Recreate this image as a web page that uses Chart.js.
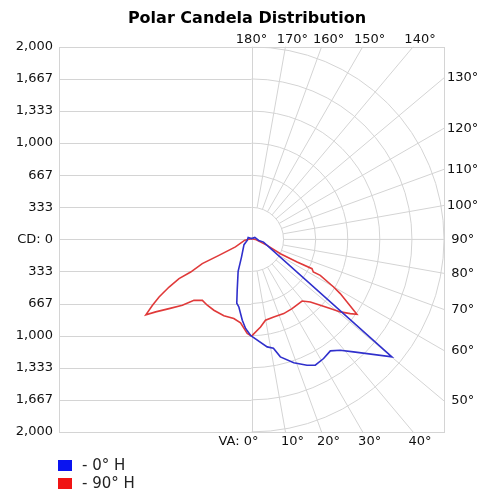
<!DOCTYPE html>
<html>
<head>
<meta charset="utf-8">
<script src="https://cdn.jsdelivr.net/npm/chart.js@4/dist/chart.umd.min.js"></script>
<style>
  body { margin: 0; background: #fff; }
  #wrap { position: relative; width: 480px; height: 494px; }
  #legend { position: absolute; left: 58px; top: 456px; font: 15px "DejaVu Sans", sans-serif; color: #222; }
  .item { height: 18px; line-height: 18px; white-space: nowrap; }
  .sw { display: inline-block; width: 14px; height: 11px; margin-right: 10px; vertical-align: -1px; }
</style>
</head>
<body>
<div id="wrap">
  <canvas id="polar" width="480" height="494"></canvas>
  <div id="legend"></div>
</div>
<script>
// candela ticks (left axis), shown as magnitudes
const cdTicks = [-2000, -1667, -1333, -1000, -667, -333, 0, 333, 667, 1000, 1333, 1667, 2000];
const cdTickLabels = ['2,000', '1,667', '1,333', '1,000', '667', '333', 'CD: 0', '333', '667', '1,000', '1,333', '1,667', '2,000'];
const rings = [333, 667, 1000, 1333, 1667, 2000];

// vertical angle labels around the frame
const rightAngles = [50, 60, 70, 80, 90, 100, 110, 120, 130];
const topAngles = [180, 170, 160, 150, 140];
const bottomAngles = [0, 10, 20, 30, 40];

// 0° H plane (right half) and 180° H (left half)
const blueVA = [0, 8.3, 11.4, 13.8, 18.9, 23.8, 26.9, 31.2, 35.3, 38.7, 42.2, 50.1, 77.3, 82, 120, 180];
const blueCD = [1005, 1128, 1152, 1256, 1355, 1428, 1464, 1446, 1418, 1474, 1577, 1901, 128, 76, 40, 8];
const blueBackVA = [180, 120, 77, 55, 29.5, 22.7, 15.7, 13, 10.6, 6.5, 3.8, 0.6, 0];
const blueBackCD = [8, 40, 46, 95, 211, 360, 549, 680, 714, 845, 927, 995, 1005];

// 90° H plane (right half) and 270° H (left half)
const redVA = [0, 5.9, 9.8, 16, 23.5, 30.4, 39.4, 43.3, 46.3, 48.7, 50.8, 53.1, 54.6, 58.6, 59.9, 62.4, 62.2, 64.2, 63.6, 63.7, 69, 90, 180];
const redCD = [1005, 914, 852, 838, 840, 833, 828, 892, 989, 1089, 1191, 1283, 1343, 1080, 986, 806, 726, 698, 529, 335, 174, 40, 8];
const redBackVA = [180, 83, 65, 63.9, 63.8, 61.8, 61.6, 60, 58.1, 56.4, 54.5, 52.9, 50, 46.4, 43.4, 38.9, 33.9, 28, 19.9, 12.6, 7.5, 2.6, 0];
const redBackCD = [8, 70, 184, 377, 570, 717, 856, 989, 1131, 1235, 1348, 1248, 1118, 992, 870, 813, 824, 833, 843, 842, 873, 978, 1005];

const rad = d => d * Math.PI / 180;
// VA 0 points down, right half positive x, left half negative x
function polarPoints(vaR, cdR, vaL, cdL) {
    const pts = [];
    vaR.forEach((a, i) => pts.push({ x: cdR[i] * Math.sin(rad(a)), y: -cdR[i] * Math.cos(rad(a)) }));
    vaL.forEach((a, i) => pts.push({ x: -cdL[i] * Math.sin(rad(a)), y: -cdL[i] * Math.cos(rad(a)) }));
    return pts;
}

const gridColor = '#d4d4d4';
const labelFont = '13px "DejaVu Sans", sans-serif';

const polarGrid = {
    id: 'polarGrid',
    beforeDatasetsDraw(chart) {
        const { ctx, chartArea: a, scales: { x, y } } = chart;
        const cx = x.getPixelForValue(0), cy = y.getPixelForValue(0);
        ctx.save();
        ctx.strokeStyle = gridColor;
        ctx.lineWidth = 1;
        ctx.beginPath();
        cdTicks.forEach(v => {
            const py = Math.round(y.getPixelForValue(v)) + 0.5;
            ctx.moveTo(a.left, py);
            ctx.lineTo(cx, py);
        });
        ctx.moveTo(Math.round(cx) + 0.5, a.top);
        ctx.lineTo(Math.round(cx) + 0.5, a.bottom);
        ctx.stroke();
        ctx.strokeRect(Math.round(a.left) + 0.5, Math.round(a.top) + 0.5, Math.round(a.width), Math.round(a.height));

        ctx.beginPath();
        ctx.rect(a.left, a.top, a.width, a.height);
        ctx.clip();
        rings.forEach(v => {
            const r = x.getPixelForValue(v) - cx;
            ctx.beginPath();
            ctx.arc(cx, cy, r, -Math.PI / 2, Math.PI / 2);
            ctx.stroke();
        });
        const r0 = x.getPixelForValue(rings[0]) - cx;
        const r1 = x.getPixelForValue(4000) - cx;
        ctx.beginPath();
        for (let va = 10; va < 180; va += 10) {
            const s = Math.sin(rad(va)), c = Math.cos(rad(va));
            ctx.moveTo(cx + r0 * s, cy + r0 * c);
            ctx.lineTo(cx + r1 * s, cy + r1 * c);
        }
        ctx.stroke();
        ctx.restore();
    },
    afterDraw(chart) {
        const { ctx, chartArea: a, scales: { x } } = chart;
        ctx.save();
        ctx.font = labelFont;
        ctx.fillStyle = '#111';
        ctx.textBaseline = 'middle';
        topAngles.forEach(va => {
            const px = x.getPixelForValue(2000 * Math.tan(rad(180 - va)));
            ctx.textAlign = 'center';
            ctx.fillText(va + '°', va === 180 ? px : px + 7, a.top - 7);
        });
        bottomAngles.forEach(va => {
            const px = x.getPixelForValue(2000 * Math.tan(rad(va)));
            if (va === 0) {
                ctx.textAlign = 'right';
                ctx.fillText('VA: 0°', px + 7, a.bottom + 10);
            } else {
                ctx.textAlign = 'center';
                ctx.fillText(va + '°', px + 7, a.bottom + 10);
            }
        });
        ctx.restore();
    }
};

const chart = new Chart(document.getElementById('polar'), {
    type: 'scatter',
    data: {
        datasets: [{
            label: '- 0° H',
            data: polarPoints(blueVA, blueCD, blueBackVA, blueBackCD),
            borderColor: '#3030cc',
            swatch: '#0a14f0',
            borderWidth: 1.6,
            showLine: true,
            pointRadius: 0
        }, {
            label: '- 90° H',
            data: polarPoints(redVA, redCD, redBackVA, redBackCD),
            borderColor: '#e03a3a',
            swatch: '#f01414',
            borderWidth: 1.6,
            showLine: true,
            pointRadius: 0
        }]
    },
    options: {
        responsive: false,
        animation: false,
        layout: { padding: { left: 14, right: 0, top: 0, bottom: 62 } },
        plugins: {
            legend: { display: false },
            tooltip: { enabled: false },
            title: {
                display: true,
                text: 'Polar Candela Distribution',
                color: '#000',
                font: { family: 'DejaVu Sans', size: 16, weight: 'bold' },
                padding: { top: 9, bottom: 18.6 }
            }
        },
        scales: {
            x: { type: 'linear', min: -2000, max: 2000, display: false },
            y: {
                type: 'linear', min: -2000, max: 2000, position: 'left',
                afterBuildTicks: s => { s.ticks = cdTicks.map(v => ({ value: v })); },
                afterFit: s => { s.width = 45; },
                ticks: {
                    autoSkip: false, padding: 6, color: '#111',
                    font: { family: 'DejaVu Sans', size: 13 },
                    callback: (v, i) => cdTickLabels[i]
                },
                grid: { display: false, drawTicks: false },
                border: { display: false }
            },
            y2: {
                type: 'linear', min: -2000, max: 2000, position: 'right',
                afterBuildTicks: s => { s.ticks = rightAngles.map(va => ({ value: -2000 / Math.tan(rad(va)) })); },
                afterFit: s => { s.width = 36; },
                ticks: {
                    autoSkip: false, padding: 3, crossAlign: 'center', color: '#111',
                    font: { family: 'DejaVu Sans', size: 13 },
                    callback: (v, i) => rightAngles[i] + '°'
                },
                grid: { display: false, drawTicks: false },
                border: { display: false }
            }
        }
    },
    plugins: [polarGrid]
});

// legend below the plot
const legend = document.getElementById('legend');
chart.data.datasets.forEach(ds => {
    const item = document.createElement('div');
    item.className = 'item';
    const sw = document.createElement('span');
    sw.className = 'sw';
    sw.style.background = ds.swatch;
    item.appendChild(sw);
    item.appendChild(document.createTextNode(ds.label));
    legend.appendChild(item);
});
</script>
</body>
</html>
